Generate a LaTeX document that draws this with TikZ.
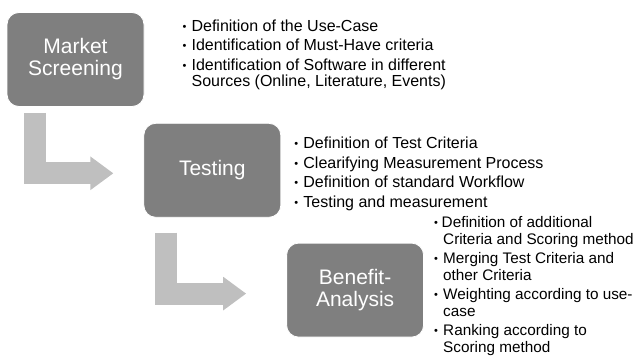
\documentclass[tikz,border=0pt]{standalone}
\usepackage{fontspec}
\setmainfont{Liberation Sans}
\usetikzlibrary{arrows.meta,positioning}

\definecolor{boxgray}{HTML}{7F7F7F}
\definecolor{flowgray}{HTML}{BFBFBF}
\newlength{\bulwd}
\setlength{\bulwd}{9pt}
\newcommand{\bul}{\makebox[\bulwd][l]{\raisebox{1pt}{\fontsize{11}{11}\selectfont\textbullet}}}
\newcommand{\ind}{\hspace*{\bulwd}}

\begin{document}
\begin{tikzpicture}[
x=1pt, y=-1pt,
stage/.style={rectangle, rounded corners=12pt, fill=boxgray, draw=white, line width=0.8pt, minimum width=137pt, minimum height=94pt, align=center, text=white, font=\fontsize{21}{22}\selectfont},
notes/.style={align=left, inner sep=0pt, font=\fontsize{16}{16.6}\selectfont},
flow/.style={draw=flowgray, line width=22pt, -{Triangle[length=23pt, width=32pt]}}
]
\useasboundingbox (0,0) rectangle (636,356);
\node[stage] (ms) at (75.5,59.5) {Market\\Screening};
\node[stage, below right=16pt and -1pt of ms] (ts) {Testing};
\node[stage, below right=25pt and 5pt of ts] (ba) {Benefit-\\Analysis};
\draw[flow] ([shift={(28pt,-6pt)}]ms.south west) |- ([shift={(-30pt,-3pt)}]ts.west);
\draw[flow] ([shift={(23pt,-15pt)}]ts.south west) |- ([shift={(-40pt,-3.5pt)}]ba.west);
\node[notes, right=38pt of ms, yshift=4.5pt] (msnotes) {\bul Definition of the Use-Case\\[2.8pt]
\bul Identification of Must-Have criteria\\[2.8pt]
\bul Identification of Software in different\\
\ind Sources (Online, Literature, Events)};
\node[notes, right=13pt of ts, yshift=-3.5pt] (tsnotes) {\bul Definition of Test Criteria\\[2.8pt]
\bul Clearifying Measurement Process\\[2.8pt]
\bul Definition of standard Workflow\\[2.8pt]
\bul Testing and measurement};
% narrower column on the right edge
\node[notes, font=\fontsize{15.3}{16.6}\selectfont, right=10pt of ba, yshift=4.3pt] (banotes) {\setlength{\bulwd}{7.5pt}%
\bul Definition of additional\\
\ind Criteria and Scoring method\\[2.8pt]
\bul Merging Test Criteria and\\
\ind other Criteria\\[2.8pt]
\bul Weighting according to use-\\
\ind case\\[2.8pt]
\bul Ranking according to\\
\ind Scoring method};
\end{tikzpicture}
\end{document}
